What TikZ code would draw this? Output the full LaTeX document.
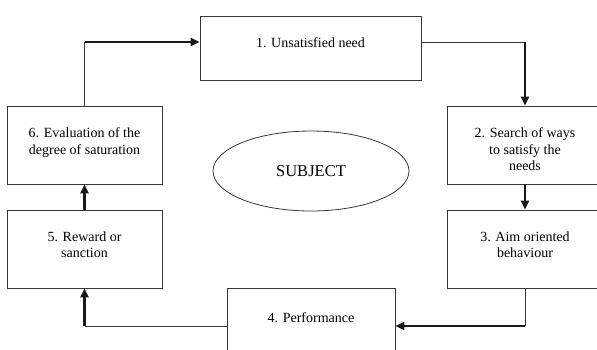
\documentclass[tikz,border=0pt]{standalone}
\usepackage{fontspec}
\setmainfont{Liberation Serif}
\usetikzlibrary{shapes.geometric,arrows.meta,positioning}
\definecolor{boxline}{RGB}{55,55,55}

\begin{document}
\begin{tikzpicture}[x=1pt, y=-1pt,
        stagebox/.style={draw=boxline, line width=0.9pt, inner sep=0pt},
        txt/.style={inner sep=0pt, align=center, font=\fontsize{14}{16.5}\selectfont},
        link/.style={draw=boxline, line width=0.9pt},
        flow/.style={draw=black!90, line width=2.2pt, -{Triangle[length=9pt,width=8pt]}}
    ]
        \useasboundingbox (0,0) rectangle (597,349);
        \clip (0,0) rectangle (597,349);

        % Centre
        \node[draw=boxline, line width=0.8pt, ellipse, minimum width=196pt, minimum height=80pt,
              font=\fontsize{16.5}{19}\selectfont] (subj) at (311,171) {SUBJECT};

        % Box 1
        \node[stagebox, minimum width=221pt, minimum height=64pt] (b1) at (310.5,48) {};
        \node[txt, below=22pt of b1.north] (t1) {1. Unsatisfied need};

        % Box 2
        \node[stagebox, minimum width=156pt, minimum height=78pt] (b2) at (525,145) {};
        \node[txt, below=22pt of b2.north] (t2) {2. Search of ways\\to satisfy the\\needs};

        % Box 3
        \node[stagebox, minimum width=156pt, minimum height=78pt] (b3) at (525,249) {};
        \node[txt, below=22pt of b3.north] (t3) {3. Aim oriented\\behaviour};

        % Box 4
        \node[stagebox, minimum width=168pt, minimum height=76pt] (b4) at (311,326) {};
        \node[txt, below=25pt of b4.north] (t4) {4. Performance};

        % Box 5
        \node[stagebox, minimum width=155pt, minimum height=78pt] (b5) at (84.5,249) {};
        \node[txt, below=22pt of b5.north] (t5) {5. Reward or\\sanction};

        % Box 6
        \node[stagebox, minimum width=155pt, minimum height=78pt] (b6) at (84.5,145) {};
        \node[txt, below=22pt of b6.north] (t6) {6. Evaluation of the\\degree of saturation};

        % 6 -> 1
        \coordinate (in1) at ([yshift=6pt]b1.west);
        \coordinate (k61) at (b6.north |- in1);
        \draw[link] (b6.north) -- (k61);
        \draw[flow] (k61) -- (in1);

        % 1 -> 2
        \coordinate (out1) at ([yshift=6pt]b1.east);
        \coordinate (k12) at (b2.north |- out1);
        \draw[link] (out1) -- (k12);
        \draw[flow] (k12) -- (b2.north);

        % 2 -> 3
        \draw[flow] (b2.south) -- (b3.north);

        % 3 -> 4
        \coordinate (k34) at (b3.south |- b4.east);
        \draw[link] (b3.south) -- (k34);
        \draw[flow] (k34) -- (b4.east);

        % 4 -> 5
        \coordinate (k45) at (b5.south |- b4.west);
        \draw[link] (b4.west) -- (k45);
        \draw[flow] (k45) -- (b5.south);

        % 5 -> 6
        \draw[flow] (b5.north) -- (b6.south);

    \end{tikzpicture}
\end{document}
